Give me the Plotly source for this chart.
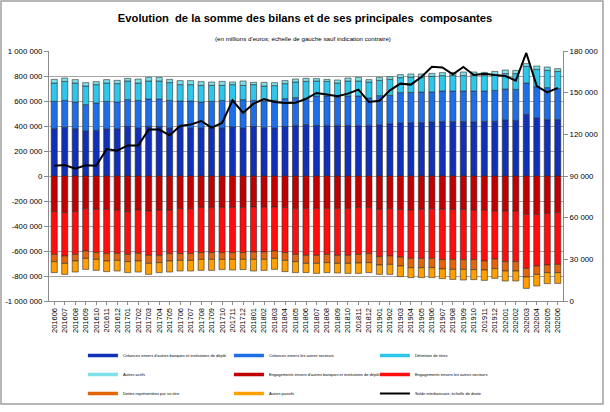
import plotly.graph_objects as go

months = ["201606","201607","201608","201609","201610","201611","201612",
          "201701","201702","201703","201704","201705","201706","201707","201708","201709","201710","201711","201712",
          "201801","201802","201803","201804","201805","201806","201807","201808","201809","201810","201811","201812",
          "201901","201902","201903","201904","201905","201906","201907","201908","201909","201910","201911","201912",
          "202001","202002","202003","202004","202005","202006"]

# Assets (thousands of millions of euros)
creances_banques = [379,389,379,360,365,376,379,397,384,397,397,384,397,384,384,384,384,392,384,397,387,384,397,405,411,
                    405,405,405,405,403,405,408,419,424,427,427,432,435,435,435,432,435,437,448,445,493,464,451,451]
creances_secteurs = [218,216,213,211,219,221,213,214,221,219,219,221,203,216,208,213,221,213,227,208,210,221,222,222,210,
                     235,235,227,235,237,219,235,226,243,242,245,240,245,245,245,248,245,248,248,248,251,251,256,248]
detention_titres = [147,152,152,149,147,147,147,149,139,144,144,142,131,131,133,128,120,126,114,126,123,118,120,125,136,
                    120,117,112,120,120,128,122,128,120,123,120,125,123,123,123,123,123,123,123,126,133,138,138,138]
autres_actifs = [29,27,27,27,24,27,26,21,32,29,29,26,32,32,30,27,32,21,35,18,29,24,24,24,24,
                 19,16,24,24,29,19,24,22,24,24,24,24,24,24,29,29,26,29,29,26,22,27,27,22]

# Liabilities (magnitudes)
eng_banques = [285,293,285,261,267,267,272,285,272,280,272,272,261,261,253,253,253,253,253,248,248,248,253,259,259,
               259,259,259,259,253,253,267,261,267,272,267,261,267,267,267,272,272,280,280,280,307,307,299,293]
eng_secteurs = [342,347,342,339,346,354,347,342,347,355,363,349,360,360,360,360,360,360,360,360,360,352,360,368,376,
                376,368,376,376,374,368,378,379,381,387,392,398,402,400,402,397,408,384,405,405,432,413,413,414]
dettes_titres = [58,59,53,59,54,59,56,58,61,64,58,59,54,54,54,54,54,54,54,59,59,59,62,58,64,
                 64,66,64,64,69,72,67,67,72,74,74,74,75,80,78,80,72,77,75,75,69,67,61,66]
autres_passifs = [88,88,88,88,88,85,85,88,88,88,80,88,85,85,88,88,82,85,82,93,88,88,90,88,74,
                  80,80,77,80,83,80,75,80,85,80,80,80,77,80,85,80,83,78,80,80,91,93,88,86]

# Interbank balance (right axis)
solde_interbancaire = [97400,97900,95300,97700,97400,109400,108200,112000,112000,123400,123400,119300,126000,127000,129600,
                       124800,128200,144500,135400,142100,145400,143300,142600,142800,145500,149800,148600,147400,149300,
                       152200,143300,144200,151700,156500,155800,161300,168700,168200,163200,168500,162700,163700,162700,
                       162000,158600,178600,154800,150200,153400]

left_ticks = [1000000,800000,600000,400000,200000,0,-200000,-400000,-600000,-800000,-1000000]
right_ticks = [0,30000,60000,90000,120000,150000,180000]

def fmt(v):
    s = f"{abs(v):,}".replace(",", " ")
    return ("-" if v < 0 else "") + s

names = ["Créances envers d'autres banques et institutions de dépôt",
         "Créances envers les autres secteurs",
         "Détention de titres",
         "Autres actifs",
         "Engagements envers d'autres banques et institutions de dépôt",
         "Engagements envers les autres secteurs",
         "Dettes représentées par un titre",
         "Autres passifs",
         "Solde interbancaire, échelle de droite"]
colors = ["#1030B8", "#1E6EE8", "#2EC6EA", "#7EE0E8", "#C00000", "#FF0D0D", "#E5660A", "#FFA000"]

series = [creances_banques, creances_secteurs, detention_titres, autres_actifs,
          [-v for v in eng_banques], [-v for v in eng_secteurs],
          [-v for v in dettes_titres], [-v for v in autres_passifs]]

fig = go.Figure()
for i, (nm, col, vals) in enumerate(zip(names[:8], colors, series)):
    fig.add_trace(go.Bar(x=months, y=[v * 1000 for v in vals], name=nm, legendgroup=f"g{i}",
                         showlegend=False,
                         marker=dict(color=col, line=dict(color="#303030", width=0.6))))
# legend entries drawn as flat coloured bars (as in the reference legend)
for i, (nm, col) in enumerate(zip(names[:8], colors)):
    fig.add_trace(go.Scatter(x=[None], y=[None], name=nm, legendgroup=f"g{i}", mode="lines",
                             line=dict(color=col, width=3.5), hoverinfo="skip"))
fig.add_trace(go.Scatter(x=months, y=solde_interbancaire, name=names[8], yaxis="y2",
                         mode="lines", line=dict(color="black", width=2)))

fnt = "Liberation Sans, Arial"
fig.update_layout(
    width=610, height=412,
    barmode="relative", bargap=0.42,
    paper_bgcolor="white", plot_bgcolor="white",
    margin=dict(l=49, r=47, t=51, b=111, autoexpand=False),
    font=dict(family=fnt, color="#000000", size=7.8),
    title=dict(text="<b>Evolution  de la somme des bilans et de ses principales  composantes</b>",
               x=0.5, xanchor="center", y=0.956, yanchor="middle",
               font=dict(family=fnt, size=11.2, color="black")),
    xaxis=dict(type="category", categoryorder="array", categoryarray=months,
               tickangle=-90, tickfont=dict(family=fnt, size=7.5),
               showgrid=False, showline=True, linecolor="#8c8c8c", linewidth=1,
               ticks="outside", ticklen=3, tickcolor="#8c8c8c", automargin=False),
    yaxis=dict(range=[-1000000, 1000000], tickvals=left_ticks, ticktext=[fmt(v) for v in left_ticks],
               showgrid=True, gridcolor="#a6a6a6", gridwidth=1, zeroline=False,
               showline=True, linecolor="#8c8c8c", linewidth=1, ticks="outside", ticklen=4,
               tickcolor="#8c8c8c", automargin=False),
    yaxis2=dict(range=[0, 180000], tickvals=right_ticks, ticktext=[fmt(v) for v in right_ticks],
                overlaying="y", side="right", showgrid=False, zeroline=False,
                showline=True, linecolor="#8c8c8c", linewidth=1, ticks="outside", ticklen=4,
                tickcolor="#8c8c8c", automargin=False),
    legend=dict(orientation="h", x=0.066, xanchor="left", y=-0.16, yanchor="top",
                entrywidth=101, entrywidthmode="pixels", font=dict(size=4, family=fnt),
                traceorder="normal", itemwidth=30, bgcolor="rgba(0,0,0,0)"),
    showlegend=True,
    separators=", ",
)
fig.add_annotation(text="(en millions d'euros; échelle de gauche sauf indication contraire)",
                   xref="paper", yref="paper", x=0.494, y=1.048, showarrow=False,
                   font=dict(family=fnt, size=6.2, color="black"), xanchor="center", yanchor="middle")
fig.add_shape(type="rect", xref="paper", yref="paper", x0=-0.0934, x1=1.0778, y0=-0.412, y1=1.2,
              line=dict(color="#a0a0a0", width=1.5), fillcolor="rgba(0,0,0,0)", layer="below")
fig.write_html("out.html", config={"displayModeBar": False},
               post_script="document.body.style.margin='0';document.body.style.padding='0';")
